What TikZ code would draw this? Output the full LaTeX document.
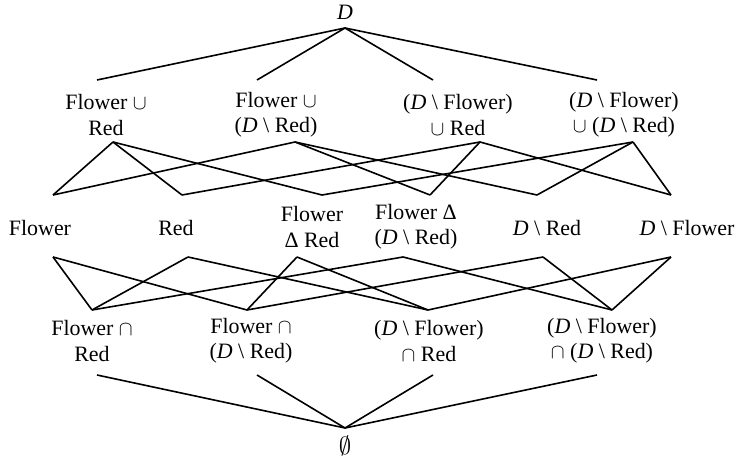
\documentclass[tikz,border=0pt]{standalone}
\usepackage{fontspec}
\setmainfont{Liberation Serif}
\newcommand{\Dm}{\textit{D}}
\newcommand{\sm}{\textbackslash\ }
\begin{document}
\begin{tikzpicture}[x=1bp,y=-1bp,
  lbl/.style={inner sep=0pt, align=center, font=\fontsize{22}{25.5}\selectfont},
  edge/.style={line width=1.6bp, line join=round}]
\path[use as bounding box] (0,0) rectangle (738,461);
% connection points
\coordinate (t) at (345,28);
\coordinate (u1) at (97,80); \coordinate (u2) at (257,80);
\coordinate (u3) at (433,80); \coordinate (u4) at (597,80);
\coordinate (A1) at (113,142); \coordinate (A2) at (295,142);
\coordinate (A3) at (480,142); \coordinate (A4) at (633,142);
\coordinate (B1) at (53,195); \coordinate (B2) at (182,195);
\coordinate (B3) at (322,195); \coordinate (B4) at (430,195);
\coordinate (B5) at (537,195); \coordinate (B6) at (671,195);
\coordinate (C1) at (53,257); \coordinate (C2) at (188,257);
\coordinate (C3) at (297,257); \coordinate (C4) at (403,257);
\coordinate (C5) at (543,257); \coordinate (C6) at (671,257);
\coordinate (E1) at (92,310); \coordinate (E2) at (247,310);
\coordinate (E3) at (428,310); \coordinate (E4) at (612,310);
\coordinate (l1) at (97,375); \coordinate (l2) at (257,375);
\coordinate (l3) at (433,375); \coordinate (l4) at (597,375);
\coordinate (b) at (345,428);
% labels
\node[lbl] (top) at (345,12) {\Dm};
\node[lbl] (U1) at (106,115) {Flower $\cup$\\Red};
\node[lbl] (U2) at (276,115) {Flower $\cup$\\(\Dm\ \sm Red)};
\node[lbl] (U3) at (458,115) {(\Dm\ \sm Flower)\\$\cup$ Red};
\node[lbl] (U4) at (624,115) {(\Dm\ \sm Flower)\\$\cup$ (\Dm\ \sm Red)};
\node[lbl] (M1) at (40,228) {Flower};
\node[lbl] (M2) at (176,228) {Red};
\node[lbl] (M3) at (312,227) {Flower\\Δ Red};
\node[lbl] (M4) at (416,227) {Flower Δ\\(\Dm\ \sm Red)};
\node[lbl] (M5) at (547,228) {\Dm\ \sm Red};
\node[lbl] (M6) at (687,228) {\Dm\ \sm Flower};
\node[lbl] (I1) at (92,341) {Flower $\cap$\\Red};
\node[lbl] (I2) at (251,341) {Flower $\cap$\\(\Dm\ \sm Red)};
\node[lbl] (I3) at (429,341) {(\Dm\ \sm Flower)\\$\cap$ Red};
\node[lbl] (I4) at (602,341) {(\Dm\ \sm Flower)\\$\cap$ (\Dm\ \sm Red)};
\node[lbl, font=\fontsize{27}{30}\selectfont] (bot) at (345,446) {$\emptyset$};
% connectors
\draw[edge] (u1) -- (t) -- (u4);
\draw[edge] (u2) -- (t) -- (u3);
\draw[edge] (A1) -- (B1); \draw[edge] (A1) -- (B2); \draw[edge] (A1) -- (B3);
\draw[edge] (A2) -- (B1); \draw[edge] (A2) -- (B4); \draw[edge] (A2) -- (B5);
\draw[edge] (A3) -- (B2); \draw[edge] (A3) -- (B4); \draw[edge] (A3) -- (B6);
\draw[edge] (A4) -- (B3); \draw[edge] (A4) -- (B5); \draw[edge] (A4) -- (B6);
\draw[edge] (E1) -- (C1); \draw[edge] (E1) -- (C2); \draw[edge] (E1) -- (C4);
\draw[edge] (E2) -- (C1); \draw[edge] (E2) -- (C3); \draw[edge] (E2) -- (C5);
\draw[edge] (E3) -- (C2); \draw[edge] (E3) -- (C3); \draw[edge] (E3) -- (C6);
\draw[edge] (E4) -- (C4); \draw[edge] (E4) -- (C5); \draw[edge] (E4) -- (C6);
\draw[edge] (l1) -- (b) -- (l4);
\draw[edge] (l2) -- (b) -- (l3);
\end{tikzpicture}
\end{document}
